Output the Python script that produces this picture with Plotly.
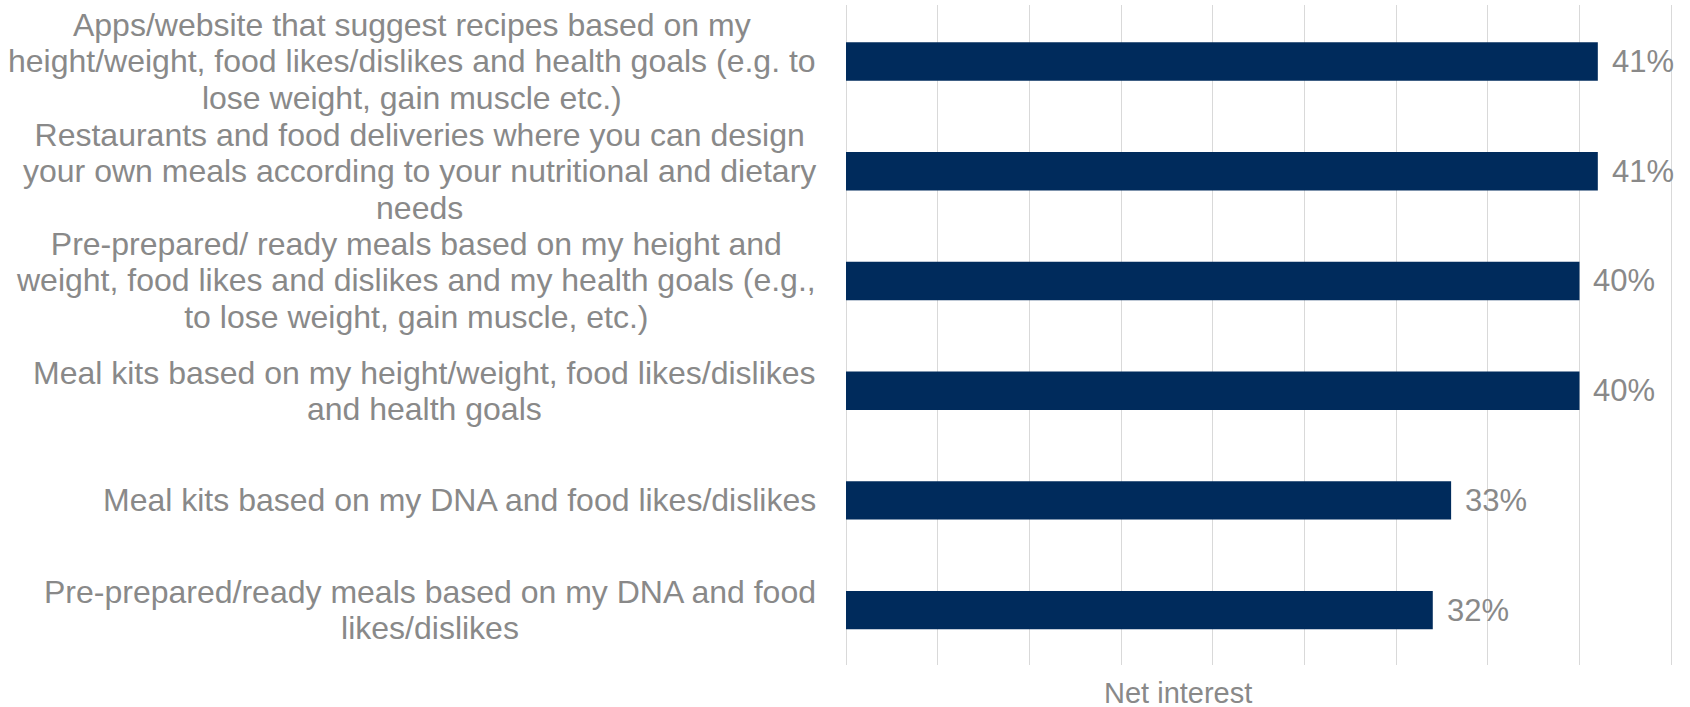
import plotly.graph_objects as go

categories = [
    "Apps/website that suggest recipes based on my\nheight/weight, food likes/dislikes and health goals (e.g. to\nlose weight, gain muscle etc.)",
    "Restaurants and food deliveries where you can design\nyour own meals according to your nutritional and dietary\nneeds",
    "Pre-prepared/ ready meals based on my height and\nweight, food likes and dislikes and my health goals (e.g.,\nto lose weight, gain muscle, etc.)",
    "Meal kits based on my height/weight, food likes/dislikes\nand health goals",
    "Meal kits based on my DNA and food likes/dislikes",
    "Pre-prepared/ready meals based on my DNA and food\nlikes/dislikes",
]
values = [41, 41, 40, 40, 33, 32]
series_name = "Net interest"
x_ticks = [0, 5, 10, 15, 20, 25, 30, 35, 40, 45]

FONT = "Liberation Sans, Arial, sans-serif"
GRAY = "#898989"
NAVY = "#002B5C"
TXT = 32

ids = [f"c{i}" for i in range(len(categories))]

fig = go.Figure()
fig.add_trace(go.Bar(
    x=values, y=ids, orientation="h", width=0.35,
    marker=dict(color=NAVY, line=dict(width=0)),
    name=series_name, showlegend=False, hoverinfo="skip",
))

annotations = []
for cid, label in zip(ids, categories):
    lines = label.split("\n")
    text = "<br>".join(f'<span style="font-size:{TXT}px">{ln}</span>' for ln in lines)
    annotations.append(dict(
        xref="paper", x=0, yref="y", y=cid, xanchor="right", yanchor="middle",
        xshift=-28, text=text, align="center", showarrow=False,
        font=dict(family=FONT, size=28, color=GRAY),
    ))
for cid, v in zip(ids, values):
    annotations.append(dict(
        xref="x", x=v, yref="y", y=cid, xanchor="left", yanchor="middle",
        xshift=12, text=f"{v}%", showarrow=False,
        font=dict(family=FONT, size=31, color=GRAY),
    ))
annotations.append(dict(
    xref="paper", x=0.401, yref="paper", y=0, yshift=-28, xanchor="center", yanchor="middle",
    text=series_name, showarrow=False, font=dict(family=FONT, size=29, color=GRAY),
))

fig.update_layout(
    width=1690, height=707,
    margin=dict(l=846, r=17, t=5, b=42),
    paper_bgcolor="white", plot_bgcolor="white",
    font=dict(family=FONT, color=GRAY),
    xaxis=dict(range=[0, 45.1], tickvals=x_ticks, showticklabels=False, showgrid=True,
               gridcolor="#D9D9D9", gridwidth=1, zeroline=True, zerolinecolor="#D9D9D9",
               zerolinewidth=1, showline=False, fixedrange=True),
    yaxis=dict(categoryorder="array", categoryarray=ids, autorange="reversed",
               showticklabels=False, showgrid=False, zeroline=False, showline=False,
               range=[5.5, -0.5], fixedrange=True),
    annotations=annotations,
)

fig.write_html("out.html", config={"displayModeBar": False},
               post_script="document.body.style.margin='0';document.body.style.overflow='hidden';")
